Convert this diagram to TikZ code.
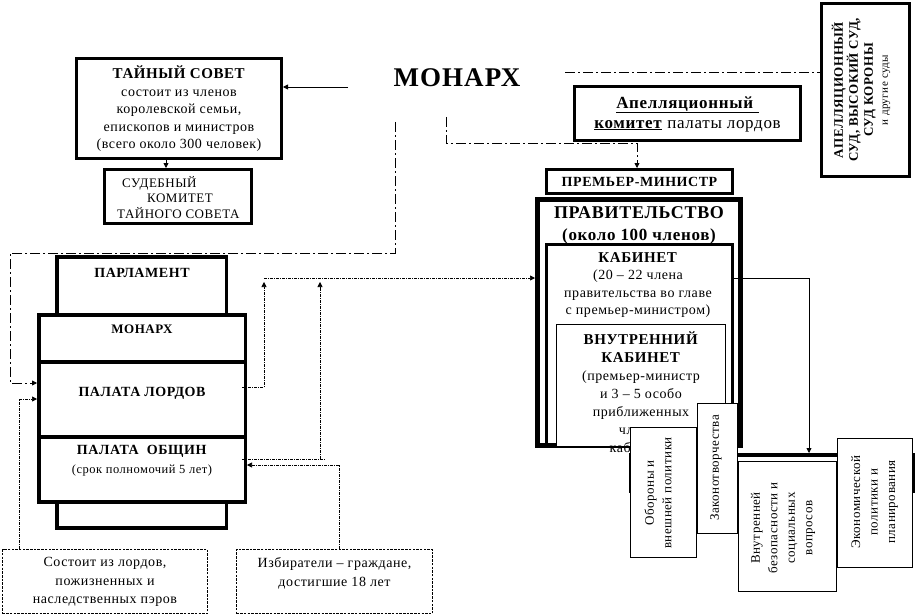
\documentclass[tikz,border=0pt]{standalone}
\usepackage{fontspec}
\setmainfont{Liberation Serif}[LetterSpace=4]
\usetikzlibrary{arrows.meta,calc}
\begin{document}
\begin{tikzpicture}[x=1pt,y=-1pt,
  bx/.style={draw, line width=3pt, inner sep=0pt, fill=white},
  tn/.style={draw, line width=0.8pt, inner sep=0pt, fill=white},
  txt/.style={inner sep=0pt, align=center},
  arr/.style={-{Triangle[length=5pt,width=5pt]}},
  dd/.style={line width=0.8pt, dash pattern=on 10pt off 3pt on 2pt off 3pt},
  fd/.style={line width=0.7pt, dash pattern=on 3pt off 1pt on 1pt off 1pt},
  dsh/.style={draw, fill=white, inner sep=0pt, line width=0.7pt, dash pattern=on 2.5pt off 1.2pt},
  fA/.style={font=\fontsize{14}{17.5}\selectfont},
  fB/.style={font=\fontsize{13}{17.5}\selectfont}
]
\useasboundingbox (0,0) rectangle (915,615);

% ---------- Privy council ----------
\node[bx, minimum width=205pt, minimum height=100pt] (ts) at (179,108.5) {};
\node[txt, fA] (tst) at (179,109) {\textbf{\fontsize{15}{17.5}\selectfont ТАЙНЫЙ СОВЕТ}\\состоит из членов\\королевской семьи,\\епископов и министров\\(всего около 300 человек)};
\node[bx, minimum width=147pt, minimum height=54pt] (sk) at (178,196.5) {};
\node[txt, align=left, anchor=west, font=\fontsize{13}{15.5}\selectfont] (skt) at (117,197.5) {\hspace{5pt}СУДЕБНЫЙ\\\hspace{30pt}КОМИТЕТ\\ТАЙНОГО СОВЕТА};

% ---------- Monarch ----------
\node[txt, font=\fontsize{27}{30}\selectfont\bfseries] (mon) at (457,78) {МОНАРХ};
\coordinate (m1) at (348,87);
\coordinate (m2) at (565,72);
\coordinate (m3) at (446,117);
\coordinate (m4) at (395,122);

% ---------- Courts ----------
\node[bx, minimum width=88pt, minimum height=173pt] (court) at (865.5,90) {};
\node[txt, rotate=90, font=\fontsize{13}{15}\selectfont\bfseries] (courtt) at (861,90) {АПЕЛЛЯЦИОННЫЙ\\СУД, ВЫСОКИЙ СУД,\\СУД КОРОНЫ\\{\mdseries\fontsize{11}{15}\selectfont и другие суды}};

% ---------- Appellate committee ----------
\node[bx, minimum width=226pt, minimum height=54pt] (ak) at (687.5,113.5) {};
\node[txt, font=\fontsize{17}{20}\selectfont] (akt) at (687.5,114) {\underline{\textbf{Апелляционный}\hspace{5pt}}\\\underline{\textbf{комитет}} палаты лордов};

% ---------- Government ----------
\node[bx, minimum width=186pt, minimum height=24pt] (pm) at (639.5,181.5) {};
\node[txt, font=\fontsize{14}{15}\selectfont\bfseries] (pmt) at (639.5,182) {ПРЕМЬЕР-МИНИСТР};
\node[bx, line width=5pt, minimum width=203pt, minimum height=246pt] (gov) at (639,322.5) {};
\node[txt, font=\fontsize{18}{22}\selectfont\bfseries] (govt) at (639,225) {ПРАВИТЕЛЬСТВО\\{\fontsize{17}{22}\selectfont (около 100 членов)}};
\node[bx, minimum width=186pt, minimum height=200pt] (cab) at (639.5,344.5) {};
\node[txt, fA] (cabt) at (638,285) {\textbf{\fontsize{15}{17.7}\selectfont КАБИНЕТ}\\(20 – 22 члена\\правительства во главе\\с премьер-министром)};
\node[tn, minimum width=169pt, minimum height=122pt] (ik) at (641,385.5) {};
\node[txt, font=\fontsize{14}{18}\selectfont] (ikt) at (641,394) {\textbf{\fontsize{15}{18}\selectfont ВНУТРЕННИЙ}\\\textbf{\fontsize{15}{18}\selectfont КАБИНЕТ}\\(премьер-министр\\и 3 – 5 особо\\приближенных\\членов\\кабинета)};

% ---------- Committees ----------
\node[bx, line width=4pt, fill=none, minimum width=282pt, minimum height=36pt] (cont) at (772,473) {};
\node[tn, minimum width=66pt, minimum height=130pt] (c1) at (663.5,492.5) {};
\node[txt, rotate=90, fB] (c1t) at (658,493) {Обороны и\\внешней политики};
\node[tn, minimum width=40pt, minimum height=130pt] (c2) at (717.5,468.5) {};
\node[txt, rotate=90, fB] (c2t) at (716,468) {Законотворчества};
\node[tn, minimum width=98pt, minimum height=130pt] (c3) at (787.5,526.5) {};
\node[txt, rotate=90, fB] (c3t) at (783,528) {Внутренней\\безопасности и\\социальных\\вопросов};
\node[tn, minimum width=75pt, minimum height=129pt] (c4) at (874.5,503) {};
\node[txt, rotate=90, fB] (c4t) at (874.5,502) {Экономической\\политики и\\планирования};

% ---------- Parliament ----------
\node[bx, line width=3.5pt, minimum width=169.5pt, minimum height=58pt] (ptop) at (141.5,286) {};
\node[bx, line width=3.5pt, minimum width=169.5pt, minimum height=26pt] (pbot) at (141.5,515) {};
\node[bx, line width=3.5pt, minimum width=206.5pt, minimum height=47pt] (pmon) at (142,338.5) {};
\node[bx, line width=3.5pt, minimum width=206.5pt, minimum height=75pt] (lords) at (142,399.5) {};
\node[bx, line width=3.5pt, minimum width=206.5pt, minimum height=65pt] (commons) at (142,469.5) {};
\node[txt, font=\fontsize{14}{17}\selectfont\bfseries] (ptopt) at (142,273) {ПАРЛАМЕНТ};
\node[txt, font=\fontsize{13}{17}\selectfont\bfseries] (pmont) at (142,329) {МОНАРХ};
\node[txt, font=\fontsize{14}{17}\selectfont\bfseries] (lordst) at (142,393) {ПАЛАТА ЛОРДОВ};
\node[txt, font=\fontsize{14}{19}\selectfont] (commonst) at (142,460.5) {\textbf{ПАЛАТА\ \ ОБЩИН}\\{\fontsize{12.5}{19}\selectfont(срок полномочий 5 лет)}};

% ---------- Bottom boxes ----------
\node[dsh, minimum width=205pt, minimum height=64pt] (sost) at (105,581.5) {};
\node[txt, font=\fontsize{14}{18.5}\selectfont] (sostt) at (105,582) {Состоит из лордов,\\пожизненных и\\наследственных пэров};
\node[dsh, minimum width=196pt, minimum height=64pt] (izb) at (334.5,581.5) {};
\node[txt, font=\fontsize{14}{19}\selectfont] (izbt) at (334.5,573) {Избиратели – граждане,\\достигшие 18 лет};

% ---------- Connectors ----------
\draw[arr, line width=0.8pt] (m1) -- (ts.east |- m1);
\draw[arr, line width=0.8pt] ($(ts.south)+(-13,0)$) -- ($(sk.north)+(-12,0)$);
\draw[dd] (m2) -- (m2 -| court.west);
\draw[dd, arr] (m3) -- ++(0,26) -| ($(pm.north)+(-2.5,0)$);
\draw[dd, arr] (m4) -- ++(0,131) -- ++(-385,0) |- ($(lords.west)+(0,-16.5)$);
\draw[fd, arr] ($(sost.north)+(-86,0)$) |- ($(lords.west)+(0,-0.5)$);
\draw[fd, arr] ($(izb.north)+(4.5,0)$) |- ($(commons.east)+(0,-4.5)$);
\coordinate (j1) at (264,278);
\coordinate (j2) at (320,278);
\draw[fd, arr] (j1) -- (gov.west |- j1);
\draw[fd, arr] ($(lords.east)+(-5,-12.5)$) -| ($(j1)+(0,4)$);
\draw[fd] ($(commons.east)+(-5,-10.5)$) -- ++(84,0);
\draw[fd, arr] ($(commons.east)+(73,-10.5)$) -- ($(j2)+(0,4)$);
\draw[arr, line width=0.8pt] ($(cab.east)+(-1.5,-66.5)$) -| ($(cont.north)+(37,0)$);
\end{tikzpicture}
\end{document}
